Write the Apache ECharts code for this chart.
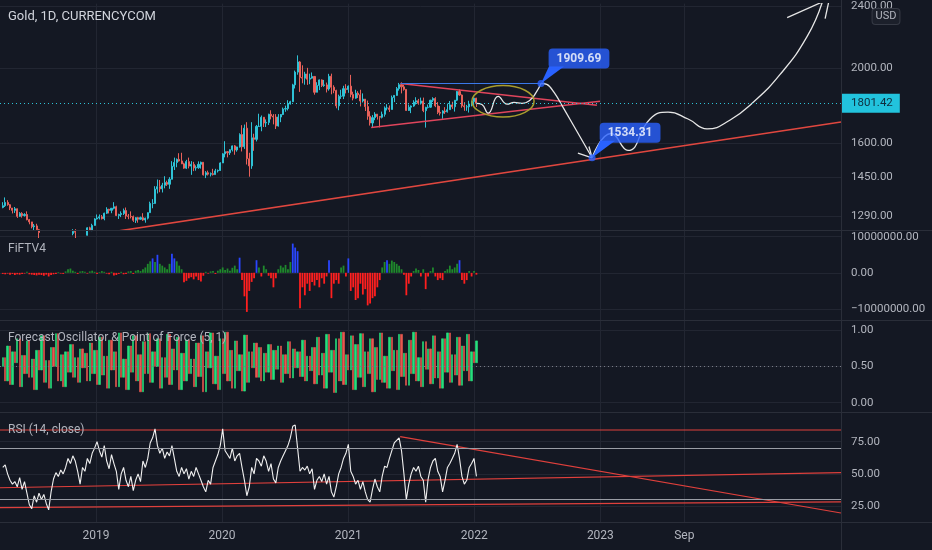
<!DOCTYPE html>
<html><head><meta charset="utf-8">
<script src="https://cdn.jsdelivr.net/npm/echarts@6/dist/echarts.min.js"></script>
<style>html,body{margin:0;padding:0;background:#141823;}#c{width:932px;height:550px;}</style>
</head><body><div id="c"></div>
<script>
// ---------- data ----------
const weekStart = '2018-04-06';
const firstOpen = 1325;
const weeklyClose = [1332,1345,1336,1323,1314,1320,1291,1302,1294,1298,1278,1270,1252,1255,1241,1231,1223,1214,1212,1184,1206,1201,1197,1194,1199,1192,1203,1222,1227,1235,1232,1209,1222,1223,1221,1248,1238,1257,1281,
1285,1289,1282,1303,1318,1314,1322,1328,1294,1298,1302,1313,1292,1291,1290,1276,1286,1280,1286,1277,1284,1305,1341,1341,1399,1409,1400,1415,1426,1419,1440,1496,1513,1527,1520,1507,1488,1517,1497,1505,1489,1490,1505,1514,1459,1468,1462,1464,1460,1476,1478,1511,
1552,1562,1557,1571,1589,1570,1584,1643,1585,1674,1530,1498,1627,1620,1683,1683,1729,1700,1703,1744,1735,1730,1685,1730,1743,1771,1774,1798,1810,1902,1975,2035,1944,1940,1964,1934,1940,1950,1861,1899,1930,1899,1902,1879,1951,1889,1871,1788,1839,1840,1881,1876,
1895,1849,1829,1856,1847,1814,1824,1784,1734,1700,1727,1745,1733,1729,1744,1777,1777,1769,1832,1844,1881,1903,1891,1877,1764,1781,1787,1808,1815,1802,1814,1763,1780,1781,1818,1827,1788,1754,1750,1761,1757,1768,1793,1783,1818,1865,1846,1788,1783,1783,1798,1811,1829,
1801.42];
const weeklyHigh = [1346,1365,1354,1338,1323,1327,1321,1307,1307,1303,1310,1281,1270,1262,1263,1244,1233,1235,1218,1213,1214,1214,1208,1213,1211,1203,1207,1233,1237,1243,1243,1236,1225,1230,1229,1250,1252,1263,1284,
1298,1298,1296,1305,1326,1320,1323,1346,1332,1301,1310,1321,1325,1300,1310,1294,1288,1289,1290,1303,1286,1306,1348,1358,1411,1439,1437,1425,1453,1434,1449,1519,1535,1531,1555,1557,1512,1525,1535,1519,1516,1500,1518,1517,1514,1475,1477,1469,1485,1485,1482,1514,
1555,1611,1564,1573,1591,1593,1585,1649,1689,1692,1704,1557,1704,1647,1690,1747,1738,1730,1718,1747,1765,1745,1745,1745,1745,1779,1789,1818,1815,1908,1984,2075,2040,2015,1977,2000,1966,1973,1950,1917,1933,1933,1930,1915,1965,1966,1900,1875,1848,1875,1897,1906,
1899,1959,1864,1875,1867,1875,1855,1824,1816,1760,1740,1755,1745,1733,1758,1785,1797,1790,1843,1846,1890,1913,1916,1903,1877,1795,1790,1818,1834,1825,1832,1832,1783,1795,1820,1834,1834,1808,1787,1765,1781,1800,1814,1810,1818,1868,1877,1849,1808,1793,1815,1815,1831,
1831];
const weeklyLow = [1322,1327,1332,1315,1302,1304,1285,1289,1286,1290,1276,1261,1246,1238,1239,1211,1220,1204,1206,1160,1183,1195,1189,1192,1194,1181,1187,1182,1217,1221,1211,1207,1196,1215,1213,1220,1236,1236,1256,
1279,1279,1279,1276,1300,1302,1303,1318,1292,1281,1288,1296,1281,1280,1283,1270,1266,1267,1278,1274,1267,1279,1306,1322,1340,1381,1386,1385,1402,1412,1400,1440,1480,1492,1517,1506,1485,1484,1487,1459,1475,1477,1485,1486,1456,1445,1456,1452,1456,1460,1469,1476,
1515,1536,1536,1547,1563,1548,1562,1581,1563,1575,1504,1451,1485,1566,1610,1680,1659,1680,1680,1690,1718,1693,1670,1682,1704,1740,1757,1764,1795,1808,1882,1960,1863,1911,1903,1902,1906,1937,1848,1862,1873,1890,1891,1860,1870,1850,1856,1775,1765,1825,1824,1855,
1858,1834,1817,1826,1830,1785,1806,1761,1716,1687,1677,1714,1717,1678,1723,1732,1764,1756,1770,1808,1842,1870,1855,1870,1762,1761,1750,1783,1795,1794,1795,1755,1677,1774,1778,1808,1781,1745,1738,1721,1746,1753,1772,1772,1758,1813,1842,1778,1762,1762,1753,1785,1785,
1782];
const fiftvMillions = [-0.3,-0.4,-0.2,-0.5,-0.3,-0.6,-0.4,-0.5,-0.3,-0.2,
0.3,-0.4,-0.5,-0.6,-0.7,-0.5,-0.6,-0.8,-0.5,-1.0,
-0.6,-0.4,-0.3,0.2,-0.2,-0.3,0.4,1.0,1.2,0.6,
0.3,-0.3,0.4,0.5,0.3,-0.2,0.4,0.6,0.3,-0.3,
0.2,0.5,0.3,-0.2,-0.4,0.3,-0.7,-0.6,-0.3,0.3,
-0.4,-0.3,0.4,0.5,-0.3,0.6,0.8,0.5,1.0,1.5,
2.5,3.2,4.0,3.0,5.0,2.5,2.0,1.5,1.0,2.5,
5.3,4.0,3.2,2.0,1.0,-2.6,-2.2,-1.5,-1.2,-1.8,
-1.0,-2.0,-2.4,-0.8,0.3,-0.2,0.4,0.5,-0.3,0.6,
1.0,1.5,0.8,1.2,0.6,1.4,2.0,1.0,4.2,-2.0,
-6.5,-10.8,-5.0,-2.5,-1.5,3.5,1.5,-1.0,2.0,1.0,
-0.8,-1.5,-4.0,-1.5,1.0,2.0,1.5,2.2,1.0,3.0,
8.1,7.0,6.0,-9.8,-4.0,-6.2,-3.0,-5.0,-2.5,-3.5,
-2.0,-4.0,-1.5,-3.0,-1.0,3.5,-7.0,-3.0,-2.0,-3.0,
1.5,2.0,-1.0,4.0,-5.0,-4.0,-7.5,-7.0,-3.0,-6.0,
-4.5,-9.0,-8.5,-7.0,-6.5,-4.0,-2.0,1.5,3.0,3.5,
2.5,3.4,3.0,2.5,2.0,1.0,-0.5,-6.2,-3.0,-1.0,
0.5,1.2,0.8,-1.0,1.0,-4.5,-1.0,0.5,1.5,-1.0,
-2.0,-1.5,-2.0,0.5,1.0,2.0,1.0,1.5,2.5,3.5,
-2.0,-3.0,-2.0,0.5,-1.0,0.5,-0.5];
const foValues = [0.62,0.30,0.78,0.25,0.70,0.55,0.88,0.22,0.65,0.40,
0.85,0.35,0.60,0.18,0.72,0.45,0.92,0.28,0.58,0.20,
0.76,0.50,0.95,0.30,0.66,0.22,0.70,0.42,0.80,0.35,
0.62,0.28,0.74,0.48,0.68,0.30,0.82,0.40,0.72,0.25,
0.90,0.38,0.64,0.20,0.86,0.45,0.70,0.22,0.96,0.35,
0.60,0.18,0.78,0.42,0.92,0.30,0.66,0.15,0.84,0.40,
0.95,0.28,0.70,0.50,0.88,0.20,0.62,0.35,0.94,0.25,
0.74,0.45,0.90,0.18,0.68,0.30,0.86,0.40,0.60,0.22,
0.82,0.36,0.92,0.15,0.70,0.48,0.96,0.26,0.64,0.18,
0.88,0.40,0.97,0.30,0.72,0.20,0.85,0.44,0.66,0.16,
0.93,0.28,0.70,0.48,0.82,0.35,0.76,0.30,0.68,0.42,
0.80,0.32,0.72,0.46,0.78,0.28,0.66,0.40,0.84,0.34,
0.74,0.48,0.70,0.36,0.86,0.30,0.64,0.44,0.76,0.26,
0.90,0.38,0.68,0.20,0.94,0.42,0.72,0.14,0.88,0.30,
0.97,0.25,0.66,0.45,0.92,0.18,0.80,0.35,0.95,0.22,
0.70,0.40,0.88,0.15,0.76,0.32,0.96,0.28,0.64,0.20,
0.90,0.44,0.72,0.18,0.94,0.36,0.68,0.24,0.86,0.40,
0.97,0.30,0.62,0.22,0.84,0.46,0.74,0.26,0.92,0.34,
0.70,0.20,0.88,0.42,0.96,0.28,0.66,0.38,0.90,0.24,
0.78,0.44,0.94,0.30,0.70,0.55,0.85];
const rsiValues = [55,57,50,45,42,44,40,47,38,44,
35,26,23,33,28,35,30,34,27,22,
36,46,51,48,53,50,55,62,58,64,
60,52,42,55,52,62,58,66,70,75,
68,63,72,60,54,65,58,52,38,50,
55,45,40,48,37,45,50,44,60,55,
62,74,78,85,72,66,70,62,67,64,
72,62,52,48,55,50,54,46,52,48,
55,50,45,40,36,45,42,55,60,65,
72,85,68,65,62,70,60,64,66,55,
45,33,40,55,50,62,60,56,64,60,
52,58,46,43,55,60,64,68,72,78,
87,88,70,52,55,53,56,50,54,38,
45,48,44,50,42,48,36,32,40,50,
55,62,66,73,52,48,42,45,38,44,
36,30,28,38,46,40,36,48,56,55,
62,68,74,76,78,68,50,30,42,50,
55,52,56,48,45,28,46,55,60,62,
52,48,36,45,55,58,62,66,73,62,
48,42,45,55,58,62,48];

const priceTicks = [1290, 1450, 1600, 2000, 2400];
const fiftvTicks = [-10000000, 0, 10000000];
const foTicks = [0, 0.5, 1];
const rsiTicks = [25, 50, 75];
const rsiBands = [70, 30];
const timeTickDates = ['2019-01-01','2020-01-01','2021-01-01','2022-01-01','2023-01-01','2023-09-01'];
const timeTickLabels = ['2019','2020','2021','2022','2023','Sep'];
const lastPrice = 1801.42;

// drawings (date, value)
const trendLine = [['2019-03-05',1236],['2024-11-28',1705]];
const triangleUpper = [['2021-06-01',1910],['2022-12-22',1791]];
const triangleLower = [['2021-03-08',1677],['2022-12-31',1812]];
const resistanceLine = [['2021-06-01',1909.69],['2022-07-13',1909.69]];
const pathWave = [['2022-01-07',1801.42],['2022-01-23',1795],['2022-02-10',1750],['2022-03-11',1839],['2022-04-06',1797],['2022-04-26',1806],['2022-05-19',1801],['2022-06-11',1818],['2022-06-29',1860],['2022-07-13',1909.69]];
const pathDrop = [['2022-07-13',1909.69],['2022-07-30',1905],['2022-08-20',1860],['2022-09-15',1780],['2022-12-08',1534.31]];
const pathRally = [['2022-12-08',1534.31],['2023-02-01',1648],['2023-03-22',1568],['2023-05-25',1720],['2023-07-16',1755],['2023-09-12',1720],['2023-11-06',1671],['2024-01-12',1715],['2024-03-18',1806],['2024-06-04',1960],['2024-08-22',2194],['2024-10-05',2429]];
const arrowStrokes = [
  [['2022-10-28',1555],['2022-12-08',1534.31]],
  [['2022-11-29',1586],['2022-12-08',1534.31]],
  [['2024-06-25',2319],['2024-10-05',2429]],
  [['2024-10-13',2312],['2024-10-24',2436]]
];
const callouts = [['2022-07-13',1909.69],['2022-12-08',1534.31]];
const ellipseBox = {start:'2021-12-25', end:'2022-06-23', top:1898, bottom:1730};
const rsiLines = [
  [['2018-03-29',84.1],['2024-11-28',84.1]],
  [['2018-03-29',39.2],['2024-11-28',50.9]],
  [['2018-03-29',23.7],['2024-11-28',28.3]],
  [['2021-05-31',78.9],['2024-11-28',19.6]]
];

// ---------- build ----------
const DAY = 86400000;
const ts = s => Date.parse(s + 'T00:00:00Z');
const xMin = ts('2018-03-29'), xMax = ts('2024-11-28');
const startTs = ts(weekStart);
const weekDates = weeklyClose.map((_, i) => startTs + i * 7 * DAY);
const FONT = 'Roboto, "Noto Sans", sans-serif';
const BG = '#141823', GRIDC = '#222632', AXC = '#b2b5be';
const UP = '#2fc2d6', DOWN = '#e8615a';

const priceData = weeklyClose.map((c, i) => {
  const o = i === 0 ? firstOpen : weeklyClose[i - 1];
  return [weekDates[i], o, c, Math.min(weeklyLow[i], o, c), Math.max(weeklyHigh[i], o, c)];
});
const fiftvData = fiftvMillions.map((v, i) => ({
  value: [weekDates[i], v * 1e6],
  itemStyle: {color: v >= 3.5 ? '#2a46ff' : (v > 0 ? '#1f8a2c' : '#ff1f1f')}
}));
const foData = foValues.map((v, i) => {
  const o = i === 0 ? 0.5 : foValues[i - 1];
  return [weekDates[i], o, v, Math.min(o, v), Math.max(o, v)];
});
const rsiData = rsiValues.map((v, i) => [weekDates[i], v]);
const toPts = arr => arr.map(p => [ts(p[0]), p[1]]);

const tickTs = timeTickDates.map(ts);
const tickLabelMap = {};
tickTs.forEach((t, i) => { tickLabelMap[t] = timeTickLabels[i]; });

function xAxis(g) {
  return {
    type: 'value', gridIndex: g, min: xMin, max: xMax, scale: true,
    axisLine: {show: false}, axisTick: {show: false, customValues: tickTs},
    axisLabel: {show: g === 3, customValues: tickTs, formatter: v => tickLabelMap[v] || '',
      color: AXC, fontSize: 12, fontFamily: FONT, margin: 8},
    splitLine: {show: true, lineStyle: {color: GRIDC, width: 1}}
  };
}
function yAxis(g, type, min, max, ticks, fmt) {
  return {
    type: type, gridIndex: g, position: 'right', min: min, max: max,
    axisLine: {show: false}, axisTick: {show: false, customValues: ticks},
    axisLabel: {customValues: ticks, formatter: fmt, color: AXC, fontSize: 11.5, fontFamily: FONT, margin: 10, align: 'left'},
    splitLine: {show: true, lineStyle: {color: GRIDC, width: 1}}
  };
}
function lineSeries(data, g, color, width, smooth, z) {
  return {
    type: 'line', xAxisIndex: g, yAxisIndex: g, data: toPts(data), symbol: 'none', showSymbol: false,
    smooth: smooth || false, silent: true, clip: true, z: z || 3,
    lineStyle: {color: color, width: width}
  };
}

const series = [];
series.push({
  type: 'candlestick', xAxisIndex: 0, yAxisIndex: 0, data: priceData, barWidth: 1.6, clip: true,
  itemStyle: {color: UP, color0: DOWN, borderColor: UP, borderColor0: DOWN, borderWidth: 1},
  markLine: {
    symbol: 'none', silent: true, animation: false,
    lineStyle: {color: '#2fc2d6', type: [1, 3], width: 1},
    label: {show: true, position: 'end', distance: 0, formatter: () => lastPrice.toFixed(2),
      backgroundColor: '#22c3dd', color: '#0f2c3c', fontSize: 11.5, fontFamily: FONT, padding: [4, 7, 3, 10]},
    data: [{yAxis: lastPrice}]
  }
});
const RED = '#e0473f', PINK = '#e0455c';
series.push(lineSeries(trendLine, 0, RED, 1.5));
series.push(lineSeries(triangleUpper, 0, PINK, 1.5));
series.push(lineSeries(triangleLower, 0, PINK, 1.5));
series.push(lineSeries(resistanceLine, 0, '#3a78e8', 1.2));
series.push(lineSeries(pathWave, 0, '#e6e6e6', 1.3, 0.5, 4));
series.push(lineSeries(pathDrop, 0, '#e6e6e6', 1.3, 0.4, 4));
series.push(lineSeries(pathRally, 0, '#e6e6e6', 1.3, 0.5, 4));
arrowStrokes.forEach(s => series.push(lineSeries(s, 0, '#e6e6e6', 1.3, false, 4)));
series.push({
  type: 'scatter', xAxisIndex: 0, yAxisIndex: 0, data: toPts(callouts), symbolSize: 7, z: 8, silent: true,
  itemStyle: {color: '#2962ff'},
  label: {show: true, position: 'inside', offset: [38, -25], formatter: p => p.value[1].toFixed(2),
    backgroundColor: '#2962ff', color: '#ffffff', fontWeight: 'bold', fontSize: 12, fontFamily: FONT,
    padding: [4, 8], borderRadius: 4}
});
series.push({
  type: 'bar', xAxisIndex: 1, yAxisIndex: 1, data: fiftvData, barWidth: 1.8, silent: true
});
series.push({
  type: 'candlestick', xAxisIndex: 2, yAxisIndex: 2, data: foData, barWidth: 1.8, silent: true,
  itemStyle: {color: '#26df7c', color0: '#e8584f', borderColor: '#26df7c', borderColor0: '#e8584f', borderWidth: 0.6},
  markLine: {symbol: 'none', silent: true, animation: false, label: {show: false},
    lineStyle: {color: '#787b86', type: [1, 3], width: 1}, data: [{yAxis: 0.5}]}
});
series.push({
  type: 'line', xAxisIndex: 3, yAxisIndex: 3, data: rsiData, symbol: 'none', showSymbol: false, silent: true, z: 4,
  lineStyle: {color: '#f0f0f0', width: 1.1},
  markLine: {symbol: 'none', silent: true, animation: false, label: {show: false},
    lineStyle: {color: '#9a9da5', type: 'solid', width: 1}, data: rsiBands.map(v => ({yAxis: v}))}
});
rsiLines.forEach(s => series.push(lineSeries(s, 3, '#e0403c', 1.2, false, 3)));

const titleStyle = {color: AXC, fontSize: 12, fontWeight: 'normal', fontFamily: FONT};
const option = {
  backgroundColor: BG,
  animation: false,
  textStyle: {fontFamily: FONT},
  title: [
    {text: 'Gold, 1D, CURRENCYCOM', left: 8, top: 10, padding: 0, textStyle: {color: '#d1d4dc', fontSize: 13, fontWeight: 'normal', fontFamily: FONT}},
    {text: 'FiFTV4', left: 8, top: 243, padding: 0, textStyle: titleStyle},
    {text: 'Forecast Oscillator & Point of Force (5, 1)', left: 8, top: 332, padding: 0, textStyle: titleStyle},
    {text: 'RSI (14, close)', left: 8, top: 424, padding: 0, textStyle: titleStyle}
  ],
  grid: [
    {left: 0, right: 91, top: 0, height: 230},
    {left: 0, right: 91, top: 231, height: 89},
    {left: 0, right: 91, top: 321, height: 91},
    {left: 0, right: 91, top: 413, height: 109}
  ],
  xAxis: [xAxis(0), xAxis(1), xAxis(2), xAxis(3)],
  yAxis: [
    yAxis(0, 'log', 1240, 2416.8, priceTicks, v => Number(v).toFixed(2)),
    yAxis(1, 'value', -13040000, 11580000, fiftvTicks, v => (v < 0 ? '\u2212' : '') + Math.abs(v).toFixed(2)),
    yAxis(2, 'value', -0.128, 1.124, foTicks, v => Number(v).toFixed(2)),
    yAxis(3, 'value', 12.6, 97.3, rsiTicks, v => Number(v).toFixed(2))
  ],
  series: series
};

const chart = echarts.init(document.getElementById('c'), null, {renderer: 'canvas'});
chart.setOption(option);

// overlay drawings positioned from data coordinates
const P = (d, v) => chart.convertToPixel({gridIndex: 0}, [ts(d), v]);
const g = [];
const eL = P(ellipseBox.start, ellipseBox.top), eR = P(ellipseBox.end, ellipseBox.bottom);
g.push({type: 'ellipse', z: 5, silent: true,
  shape: {cx: (eL[0] + eR[0]) / 2, cy: (eL[1] + eR[1]) / 2, rx: Math.abs(eR[0] - eL[0]) / 2, ry: Math.abs(eR[1] - eL[1]) / 2},
  style: {fill: 'none', stroke: '#a99d2e', lineWidth: 1.5}});
callouts.forEach(c => {
  const p = P(c[0], c[1]);
  g.push({type: 'polygon', z: 6, silent: true,
    shape: {points: [[p[0], p[1]], [p[0] + 8, p[1] - 17], [p[0] + 23, p[1] - 17]]},
    style: {fill: '#2962ff'}});
});
// pane separators and axis chrome
[230.5, 320.5, 412.5, 522.5].forEach(y => g.push({type: 'line', z: 20, silent: true,
  shape: {x1: 0, y1: y, x2: 932, y2: y}, style: {stroke: '#2a2e39', lineWidth: 1}}));
g.push({type: 'line', z: 20, silent: true, shape: {x1: 841.5, y1: 0, x2: 841.5, y2: 550}, style: {stroke: '#2a2e39', lineWidth: 1}});
g.push({type: 'text', z: 21, silent: true, x: 886, y: 16.5,
  style: {text: 'USD', fill: AXC, font: '11px ' + FONT, align: 'center', verticalAlign: 'middle',
    backgroundColor: '#1c202b', borderColor: '#363a45', borderWidth: 1, borderRadius: 3, padding: [2, 3]}});
chart.setOption({graphic: g});
</script>
</body></html>
